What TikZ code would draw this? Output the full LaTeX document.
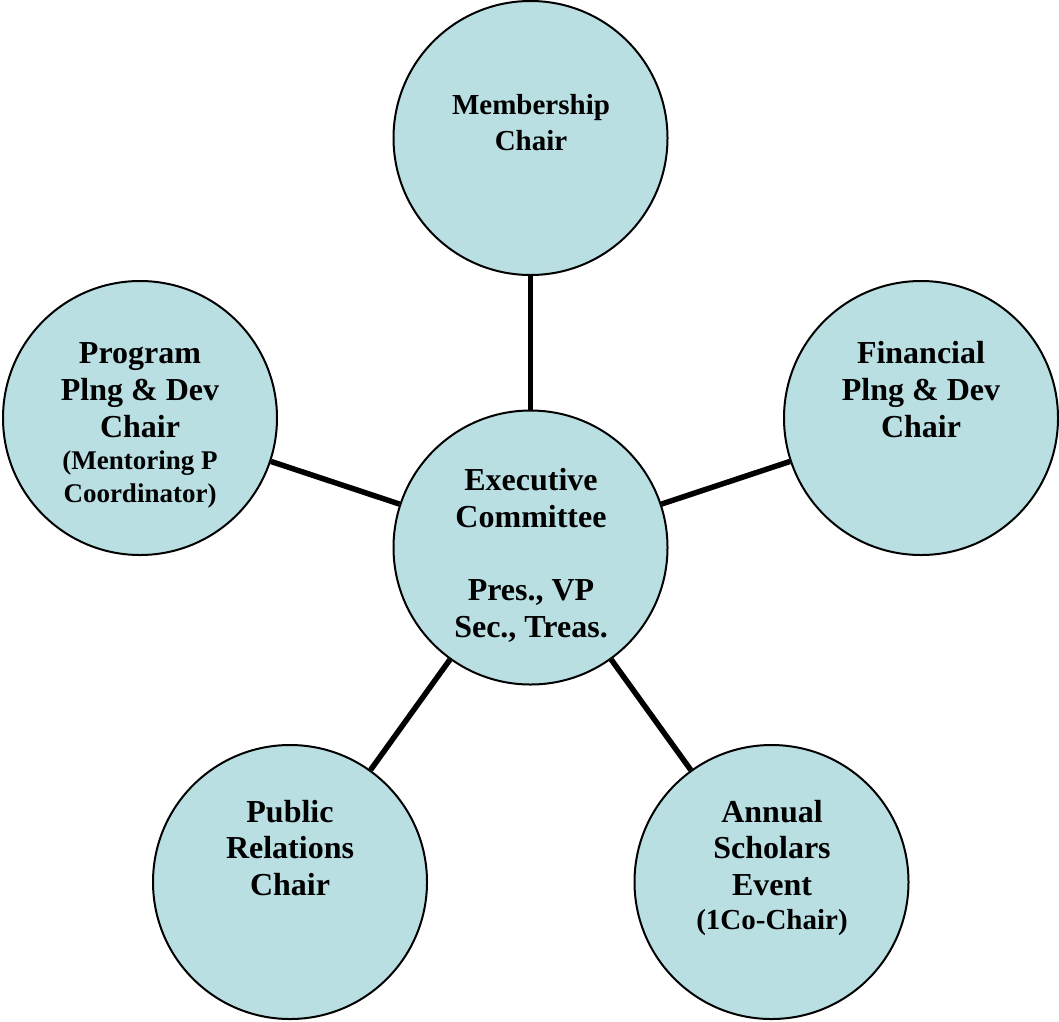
\documentclass[tikz,border=0pt]{standalone}
\usepackage{fontspec}
\setmainfont{Liberation Serif}
\definecolor{circfill}{RGB}{185,223,227}
\tikzset{
  role/.style={circle, draw=black, line width=2pt, fill=circfill, minimum size=274pt, inner sep=0pt},
  link/.style={line width=5.5pt, black},
  big/.style={anchor=base, inner sep=0pt, font=\fontsize{32}{37}\selectfont\bfseries},
  mid/.style={anchor=base, inner sep=0pt, font=\fontsize{29}{33}\selectfont\bfseries},
  small/.style={anchor=base, inner sep=0pt, font=\fontsize{27}{31}\selectfont\bfseries},
}
\begin{document}
\begin{tikzpicture}[x=1pt,y=-1pt]
\useasboundingbox (0,0) rectangle (1059,1021);
% circles
\node[role] (exec) at (530.5,547.5) {};
\node[role] (memb) at (530.5,138) {};
\node[role] (prog) at (140,418) {};
\node[role] (fin)  at (921,418) {};
\node[role] (pr)   at (290,882) {};
\node[role] (ann)  at (771.5,882) {};
% connectors
\draw[link] (exec) -- (memb);
\draw[link] (exec) -- (prog);
\draw[link] (exec) -- (fin);
\draw[link] (exec) -- (pr);
\draw[link] (exec) -- (ann);
% Membership
\node[mid] (m1) at (531,114) {Membership};
\node[mid] (m2) at (531,150) {Chair};
% Program
\node[big] (p1) at (140,363) {Program};
\node[big] (p2) at (140,400) {Plng \& Dev};
\node[big] (p3) at (140,437) {Chair};
\node[small] (p4) at (140,469) {(Mentoring P};
\node[small] (p5) at (140,502) {Coordinator)};
% Financial
\node[big] (f1) at (921,363) {Financial};
\node[big] (f2) at (921,400) {Plng \& Dev};
\node[big] (f3) at (921,437) {Chair};
% Executive
\node[big] (e1) at (531,490) {Executive};
\node[big] (e2) at (531,527) {Committee};
\node[big] (e3) at (531,600) {Pres., VP};
\node[big] (e4) at (531,637) {Sec., Treas.};
% Public Relations
\node[big] (r1) at (290,822) {Public};
\node[big] (r2) at (290,858) {Relations};
\node[big] (r3) at (290,895) {Chair};
% Annual
\node[big] (a1) at (772,822) {Annual};
\node[big] (a2) at (772,858) {Scholars};
\node[big] (a3) at (772,895) {Event};
\node[mid] (a4) at (772,929) {(1Co-Chair)};
\end{tikzpicture}
\end{document}
